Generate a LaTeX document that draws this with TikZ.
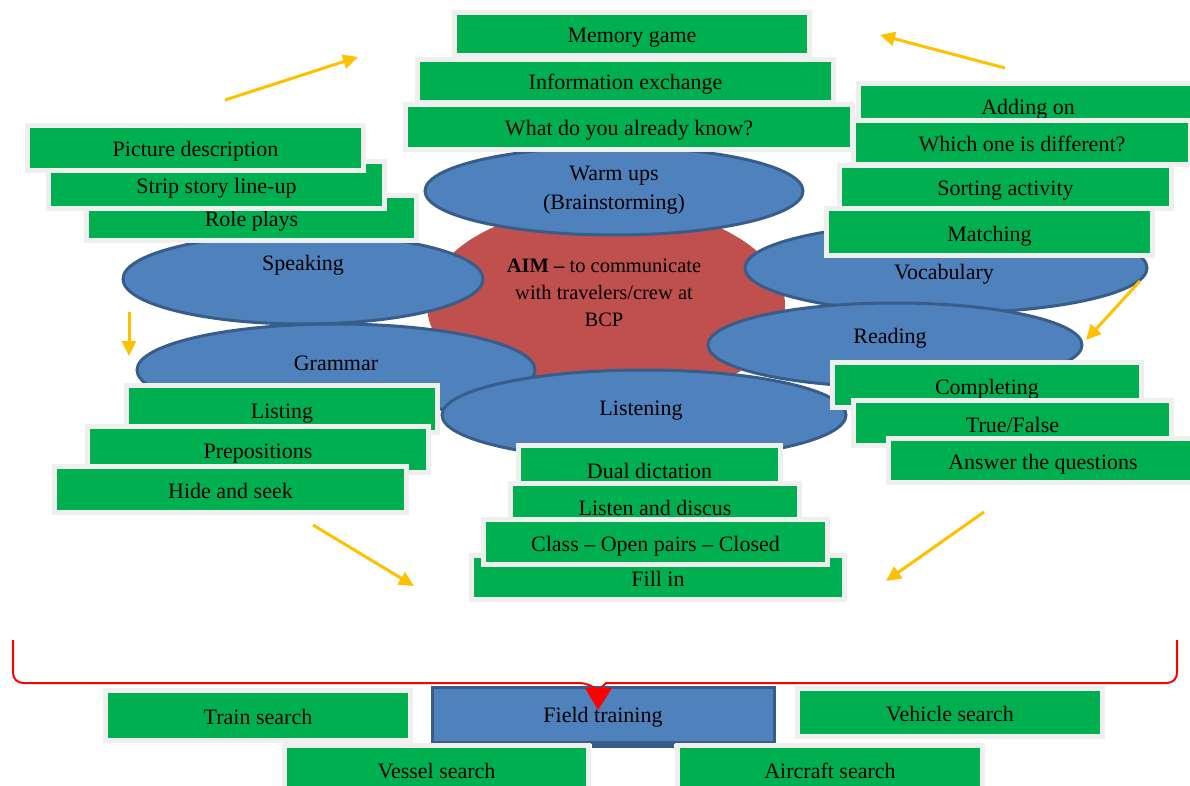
\documentclass[tikz,border=0pt]{standalone}
\usepackage{fontspec}
\setmainfont{Liberation Serif}
\usetikzlibrary{shapes.geometric,arrows.meta}
\definecolor{boxgreen}{HTML}{00B050}
\definecolor{framegray}{HTML}{EFEFEF}
\definecolor{ellblue}{HTML}{4F81BD}
\definecolor{ellborder}{HTML}{385D8A}
\definecolor{aimred}{HTML}{C0504D}
\definecolor{arroworange}{HTML}{FFC000}
\definecolor{bracered}{HTML}{FF0000}
\newcommand{\gbox}[6]{%
  \node[gbox, minimum width={#4-#2+5}, minimum height={#5-#3+5}] (#1) at ({(#2+#4)/2},{(#3+#5)/2}) {#6};}
\newcommand{\bell}[5]{%
  \node[bell, minimum width={2*#4}, minimum height={2*#5}] (#1) at (#2,#3) {};}
\begin{document}
\begin{tikzpicture}[x=1pt,y=-1pt,
  every node/.style={font=\fontsize{22}{26}\selectfont},
  gbox/.style={rectangle, fill=boxgreen, draw=framegray, line width=5pt, inner sep=0pt, text height=21pt, text depth=3pt},
  bell/.style={ellipse, fill=ellblue, draw=ellborder, line width=3pt, inner sep=0pt},
  lbl/.style={inner sep=0pt, text height=16pt, text depth=4pt},
  orarrow/.style={draw=arroworange, line width=3pt, -{Triangle[length=15pt,width=14pt]}},
  brace/.style={draw=bracered, line width=2pt, rounded corners=10pt}]
\useasboundingbox (0,0) rectangle (1190,786);
\clip (0,0) rectangle (1190,786);
\fill[white] (0,0) rectangle (1190,786);

% central aim shape
\node[ellipse, fill=aimred, inner sep=0pt, minimum width=358, minimum height=200] (aimE) at (606,305) {};
% ellipses
\bell{warm}{614}{191}{189}{44}
\bell{speak}{303}{279}{180}{45}
\bell{gram}{336}{370}{199}{46}
\bell{voc}{946}{268}{201}{45}
\bell{read}{895}{345}{187}{42}
\bell{listen}{644}{415}{202}{45}

\node[inner sep=0pt, align=center, font=\fontsize{20.5}{27}\selectfont] (aim) at (604,293) {\textbf{AIM –} to communicate\\with travelers/crew at\\BCP};
\node[inner sep=0pt, align=center, font=\fontsize{22}{29}\selectfont] (warmT) at (614,190) {Warm ups\\(Brainstorming)};
\node[lbl] (speakT) at (303,264) {Speaking};
\node[lbl] (gramT) at (336,364) {Grammar};
\node[lbl] (vocT) at (944,273) {Vocabulary};
\node[lbl] (readT) at (890,337) {Reading};
\node[lbl] (listT) at (641,409) {Listening};

% top stack
\gbox{mem}{457}{15}{807}{53}{Memory game}
\gbox{info}{420}{62}{831}{100}{Information exchange}
\gbox{what}{408}{107}{850}{147}{What do you already know?}

% speaking stack
\gbox{role}{89}{198}{414}{238}{Role plays}
\gbox{strip}{51}{164}{382}{206}{Strip story line-up}
\gbox{pic}{30}{128}{361}{168}{Picture description}

% vocabulary stack
\gbox{add}{861}{86}{1195}{126}{Adding on}
\gbox{which}{856}{123}{1188}{162}{Which one is different?}
\gbox{match}{829}{211}{1150}{253}{Matching}
\gbox{sort}{842}{168}{1169}{206}{Sorting activity}

% grammar stack
\gbox{listing}{129}{388}{435}{430}{Listing}
\gbox{prep}{90}{429}{426}{470}{Prepositions}
\gbox{hide}{57}{469}{404}{510}{Hide and seek}

% listening stack
\gbox{dual}{521}{448}{778}{490}{Dual dictation}
\gbox{discus}{513}{486}{797}{526}{Listen and discus}
\gbox{fill}{474}{558}{842}{597}{Fill in}
\gbox{class}{486}{522}{825}{562}{Class – Open pairs – Closed}

% reading stack
\gbox{compl}{835}{365}{1139}{405}{Completing}
\gbox{tf}{856}{403}{1169}{443}{True/False}
\gbox{answer}{891}{441}{1195}{480}{Answer the questions}

% orange arrows
\coordinate (a1s) at (225,100); \coordinate (a1e) at (358,57);
\coordinate (a2s) at (1005,68); \coordinate (a2e) at (880,35);
\coordinate (a3s) at (129,312); \coordinate (a3e) at (129,356);
\coordinate (a4s) at (1140,281); \coordinate (a4e) at (1086,340);
\coordinate (a5s) at (313,525); \coordinate (a5e) at (414,586);
\coordinate (a6s) at (984,512); \coordinate (a6e) at (886,581);
\draw[orarrow] (a1s) -- (a1e);
\draw[orarrow] (a2s) -- (a2e);
\draw[orarrow] (a3s) -- (a3e);
\draw[orarrow] (a4s) -- (a4e);
\draw[orarrow] (a5s) -- (a5e);
\draw[orarrow] (a6s) -- (a6e);

% field training
\node[rectangle, fill=ellblue, draw=ellborder, line width=3pt, minimum width=342, minimum height=55, inner sep=0pt, text height=19pt, text depth=3pt] (field) at (603,714.5) {Field training};
\fill[ellborder] (592,743) rectangle (674,748);

% brace
\coordinate (braceL) at (13,640);
\coordinate (braceR) at (1177,640);
\coordinate (braceTip) at (598,691);
\draw[brace] (braceL) -- (13,683) -- (590,683) [sharp corners] -- (braceTip) -- (606,683) [rounded corners=10pt] -- (1177,683) -- (braceR);
\fill[bracered] (585,688) -- (612,688) -- (598,710) -- cycle;

% field boxes
\gbox{train}{108}{693}{408}{738}{Train search}
\gbox{vehicle}{800}{691}{1100}{734}{Vehicle search}
\gbox{vessel}{287}{748}{586}{790}{Vessel search}
\gbox{aircraft}{680}{748}{980}{790}{Aircraft search}
\end{tikzpicture}
\end{document}
